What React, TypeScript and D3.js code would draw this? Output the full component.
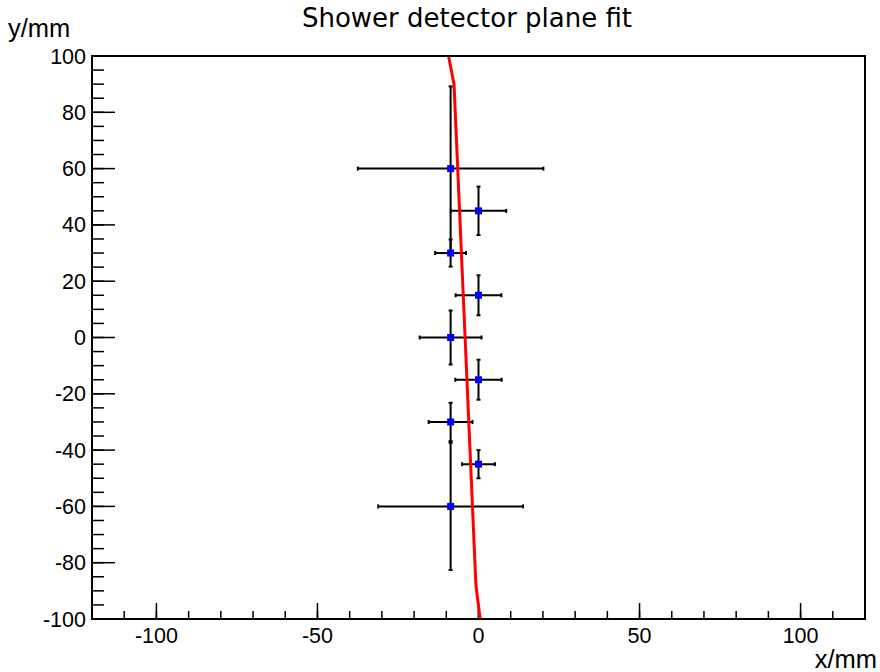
import { scaleLinear, line, range } from "d3";

const width = 880;
const height = 672;

// frame of the plot area (pixels)
const left = 92;
const right = 865;
const top = 56;
const bottom = 619;

// measured points: x, y and their errors (mm)
const pointX = [-8.66, 0, -8.66, 0, -8.66, 0, -8.66, 0, -8.66];
const pointY = [60, 45, 30, 15, 0, -15, -30, -45, -60];
const errX = [28.8, 8.6, 4.8, 7.1, 9.6, 7.2, 6.8, 5.1, 22.5];
const errY = [29.2, 8.6, 4.8, 7.1, 9.6, 7.1, 6.8, 5.0, 22.6];

// fitted plane, drawn as a polyline
const fitY = [100, 90, -88, -100];
const fitX = [-9.3, -7.6, -0.8, 0.5];

const xMajor = [-100, -50, 0, 50, 100];
const xMinor = range(-110, 111, 10);
const yMajor = range(-100, 101, 20);
const yMinor = range(-95, 100, 5);

const x = scaleLinear().domain([-120, 120]).range([left, right]);
const y = scaleLinear().domain([-100, 100]).range([bottom, top]);

const labelFont = "'Liberation Sans', Arial, sans-serif";

const fitLine = line<number>()
  .x((d, i) => x(fitX[i]))
  .y((d) => y(d));

export default function App() {
  const cap = 2;
  return (
    <div style={{ position: "absolute", left: 0, top: 0 }}>
      <svg width={width} height={height} style={{ display: "block", background: "#fff" }}>
        <rect x={0} y={0} width={width} height={height} fill="#fff" />

        <text x={467} y={27} textAnchor="middle" fontFamily="'DejaVu Sans', sans-serif" fontSize={26} fill="#000">
          Shower detector plane fit
        </text>

        {/* ticks */}
        <g stroke="#000" strokeWidth={1.5}>
          {yMinor.map((v) => (
            <line key={"ym" + v} x1={left} x2={left + 12} y1={y(v)} y2={y(v)} />
          ))}
          {yMajor.filter((v) => v > -100 && v < 100).map((v) => (
            <line key={"yM" + v} x1={left} x2={left + 23} y1={y(v)} y2={y(v)} />
          ))}
          {xMinor.map((v) => (
            <line key={"xm" + v} x1={x(v)} x2={x(v)} y1={bottom} y2={bottom - 8} />
          ))}
          {xMajor.map((v) => (
            <line key={"xM" + v} x1={x(v)} x2={x(v)} y1={bottom} y2={bottom - 16} />
          ))}
        </g>

        <g fontFamily={labelFont} fontSize={21.5} fill="#000">
          {yMajor.map((v) => (
            <text key={"yl" + v} x={left - 6} y={y(v) + 7.5} textAnchor="end">
              {v}
            </text>
          ))}
          {xMajor.map((v) => (
            <text key={"xl" + v} x={x(v)} y={bottom + 24} textAnchor="middle">
              {v}
            </text>
          ))}
        </g>

        <text x={8} y={37} fontFamily={labelFont} fontSize={25.5} fill="#000">
          y/mm
        </text>
        <text x={877} y={668} textAnchor="end" fontFamily={labelFont} fontSize={25.5} fill="#000">
          x/mm
        </text>

        {/* error bars */}
        <g stroke="#000" strokeWidth={2}>
          {pointX.map((px, i) => {
            const cx = x(px);
            const cy = y(pointY[i]);
            const x0 = x(px - errX[i]);
            const x1 = x(px + errX[i]);
            const y0 = y(pointY[i] + errY[i]);
            const y1 = y(pointY[i] - errY[i]);
            return (
              <g key={"e" + i}>
                <line x1={x0} x2={x1} y1={cy} y2={cy} />
                <line x1={cx} x2={cx} y1={y0} y2={y1} />
                <line x1={x0} x2={x0} y1={cy - cap} y2={cy + cap} />
                <line x1={x1} x2={x1} y1={cy - cap} y2={cy + cap} />
                <line x1={cx - cap} x2={cx + cap} y1={y0} y2={y0} />
                <line x1={cx - cap} x2={cx + cap} y1={y1} y2={y1} />
              </g>
            );
          })}
        </g>

        <path d={fitLine(fitY) ?? ""} fill="none" stroke="#ff0000" strokeWidth={3} />

        {pointX.map((px, i) => (
          <rect key={"p" + i} x={x(px) - 3.5} y={y(pointY[i]) - 3.5} width={7} height={7} fill="#0000ff" />
        ))}

        <rect x={left} y={top} width={right - left} height={bottom - top} fill="none" stroke="#000" strokeWidth={2} />
      </svg>
    </div>
  );
}
